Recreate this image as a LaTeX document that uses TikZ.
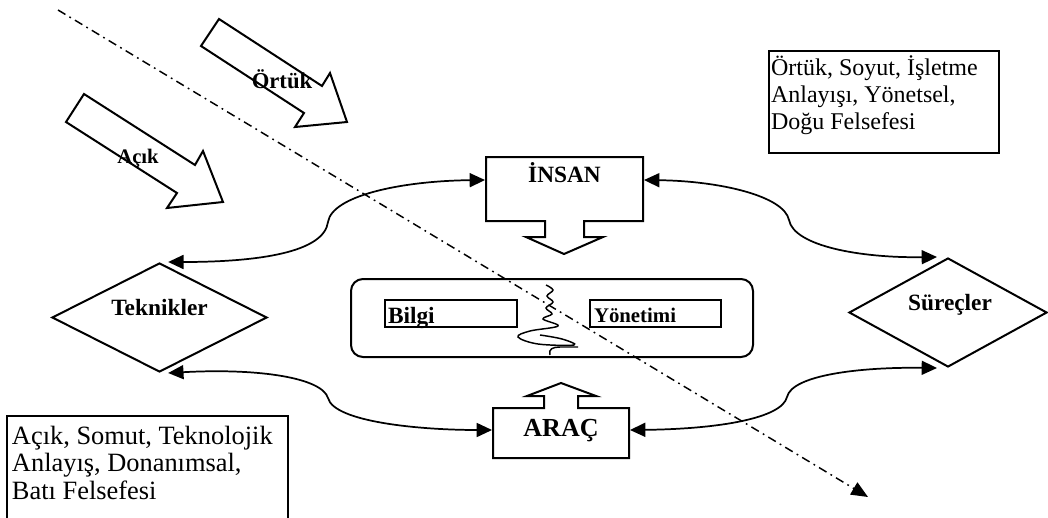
\documentclass[tikz,border=0pt]{standalone}
\usepackage{fontspec}
\setmainfont{Liberation Serif}
\usetikzlibrary{shapes.geometric,arrows.meta}
\begin{document}
\begin{tikzpicture}[x=0.75pt,y=-0.75pt,
  line width=1.5pt, line join=miter,
  lbl/.style={font=\bfseries\fontsize{17.5}{20}\selectfont, inner sep=0},
  conn/.style={{Triangle[length=11.5pt,width=10.5pt]}-{Triangle[length=11.5pt,width=10.5pt]}, line width=1.3pt},
  dia/.style={diamond, draw, inner sep=0, minimum width=#1, minimum height=81.75pt},
  box/.style={draw, inner sep=0},
  note/.style={align=left, inner sep=0, anchor=north west},
  blockarrow/.style={draw, fill=white, line width=1.5pt}
]
\useasboundingbox (0,0) rectangle (1048,517);
\clip (0,0) rectangle (1048,517);

% block arrows Ortuk / Acik
\draw[blockarrow] (219,19) -- (201,46) -- (304,113) -- (295,127) -- (347,122) -- (330,73) -- (322,86) -- cycle;
\node[lbl, font=\bfseries\fontsize{17}{20}\selectfont, anchor=base] (ortukT) at (282,89) {Örtük};
\draw[blockarrow] (84,94) -- (66,122) -- (177,193) -- (167,208) -- (223,202) -- (203,151) -- (195,165) -- cycle;
\node[lbl, font=\bfseries\fontsize{15.5}{18}\selectfont, anchor=base] (acikT) at (138,163) {Açık};

% INSAN box with down arrow
\node[inner sep=0, minimum width=117.75pt, minimum height=48pt] (insan) at (564.5,189) {};
\draw (486,157) -- (643,157) -- (643,221) -- (584,221) -- (584,237) -- (603,237) -- (564,254)
      -- (526,237) -- (545,237) -- (545,221) -- (486,221) -- cycle;
\node[lbl, anchor=base] (insanT) at (564.5,182) {İNSAN};

% ARAC box with up arrow
\node[inner sep=0, minimum width=102pt, minimum height=37.5pt] (arac) at (561,433) {};
\draw (493,408) -- (544,408) -- (544,396) -- (527,396) -- (561,383) -- (596,396) -- (578,396)
      -- (578,408) -- (629,408) -- (629,458) -- (493,458) -- cycle;
\node[lbl, font=\bfseries\fontsize{19.5}{22}\selectfont, anchor=base] (aracT) at (561,436) {ARAÇ};

% diamonds
\node[dia=161.25pt] (teknik) at (159.5,317.5) {};
\node[lbl, anchor=base] (teknikT) at (159.5,315) {Teknikler};
\node[dia=148.5pt] (surec) at (948,312.5) {};
\node[lbl, anchor=base] (surecT) at (950,310) {Süreçler};

% central rounded box
\node[draw, rounded corners=9pt, minimum width=301.5pt, minimum height=58.5pt, inner sep=0] (km) at (552,318) {};
\node[box, minimum width=99pt, minimum height=20.25pt] (bilgiB) at (451,313.5) {};
\node[box, minimum width=98.25pt, minimum height=20.25pt] (yonB) at (655.5,313.5) {};
\node[lbl, anchor=base west] (bilgiT) at (387,323) {Bilgi};
\node[lbl, font=\bfseries\fontsize{15.6}{18}\selectfont, anchor=base west] (yonT) at (593,322) {Yönetimi};

% squiggle
\draw[line width=1.1pt] plot[smooth, tension=0.6] coordinates {(546,285) (553,290) (547,296) (553,302) (546,308) (552,314) (543,319) (558,326) (530,331) (518,337) (538,344) (574,345) (562,339) (540,335)};
\draw[line width=1.1pt] (550,355) .. controls (548,349) and (553,347) .. (560,347) -- (578,347);

% curved connectors
\draw[conn] ([xshift=6.5pt]teknik.north) .. controls (260,262) and (324,252) .. (328,222)
      .. controls (332,196) and (400,181) .. ([yshift=6.75pt]insan.west);
\draw[conn] ([yshift=6.75pt]insan.east) .. controls (720,181) and (784,196) .. (789,220)
      .. controls (794,246) and (860,258) .. ([xshift=-8.25pt]surec.north);
\draw[conn] ([xshift=6.5pt]teknik.south) .. controls (260,368) and (322,378) .. (328,398)
      .. controls (334,422) and (420,430) .. ([yshift=2.25pt]arac.west);
\draw[conn] ([yshift=2.25pt]arac.east) .. controls (720,429) and (782,418) .. (787,397)
      .. controls (792,375) and (860,367) .. ([xshift=-8.25pt]surec.south);

% note boxes
\draw (769,51) rectangle (999,153);
\node[note, font=\fontsize{18}{20.25}\selectfont] (noteR) at (770,55.1)
  {\strut Örtük, Soyut, İşletme\\\strut Anlayışı, Yönetsel,\\\strut Doğu Felsefesi};
\draw (7,416) rectangle (288,540);
\node[note, font=\fontsize{19.8}{19.5}\selectfont] (noteL) at (11,424.8)
  {\strut Açık, Somut, Teknolojik\\\strut Anlayış, Donanımsal,\\\strut Batı Felsefesi};

% dash-dot line
\coordinate (dstart) at (58,10);
\coordinate (dend) at (868,497);
\draw[line width=1.1pt, dash pattern=on 6.5pt off 3.5pt on 1.3pt off 3.5pt, -{Triangle[length=12.5pt,width=10.5pt]}] (dstart) -- (dend);
\end{tikzpicture}
\end{document}
